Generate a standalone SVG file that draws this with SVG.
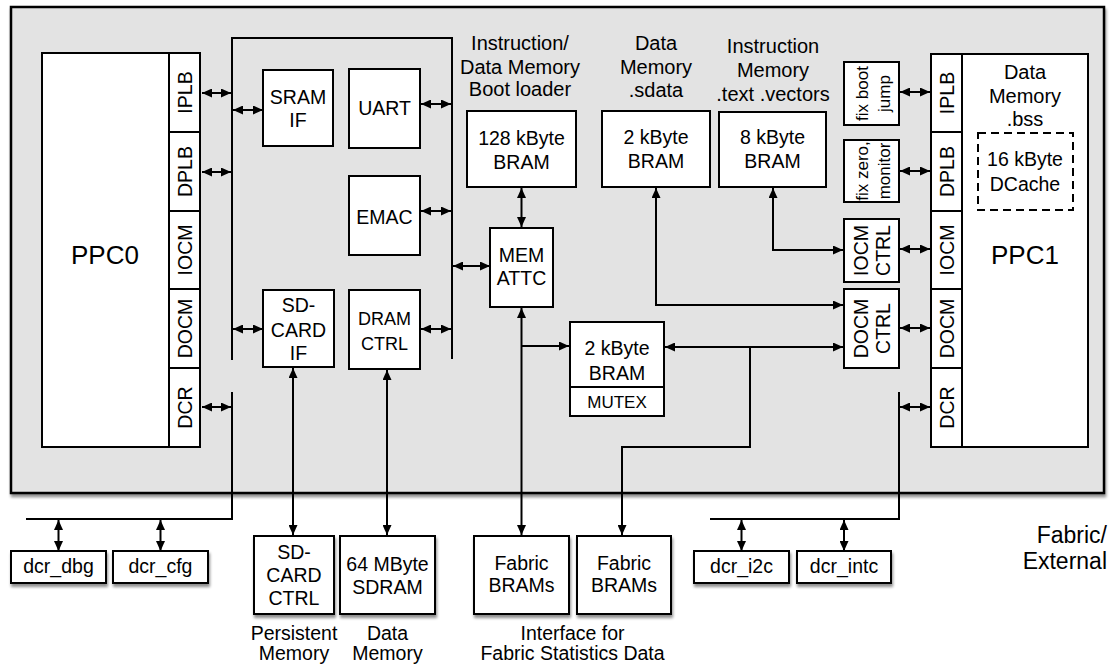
<svg xmlns="http://www.w3.org/2000/svg" width="1112" height="666" viewBox="0 0 1112 666">
<defs>
<marker id="ah" viewBox="0 0 10 9" refX="10" refY="4.5" markerWidth="10" markerHeight="9" markerUnits="userSpaceOnUse" orient="auto-start-reverse"><path d="M0,0 L10,4.5 L0,9 z" fill="#000"/></marker>
<filter id="sh" x="-10%" y="-10%" width="125%" height="130%"><feGaussianBlur in="SourceAlpha" stdDeviation="1.5"/><feOffset dx="1" dy="3"/><feComponentTransfer><feFuncA type="linear" slope="0.45"/></feComponentTransfer><feMerge><feMergeNode/><feMergeNode in="SourceGraphic"/></feMerge></filter>
</defs>
<style>
.bx{fill:#fff;stroke:#000;stroke-width:2}
.t{font-family:"Liberation Sans",Arial,Helvetica,sans-serif;font-size:19.5px;fill:#000;text-anchor:middle}
.lb{font-size:20px}
.s18{font-size:18px}
.s17{font-size:17px}
.big{font-size:26px}
.ext{font-size:23px;text-anchor:end}
.ln{fill:none;stroke:#000;stroke-width:2}
.a2{marker-start:url(#ah);marker-end:url(#ah)}
.a1{marker-end:url(#ah)}
</style>
<rect id="background" x="0" y="0" width="1112" height="666" fill="#fff"/>
<g id="fpga"><rect x="11" y="7" width="1093" height="486" fill="#e3e3e3" stroke="#000" stroke-width="2.5" filter="url(#sh)"/></g>

<g id="connectors">
<path class="ln" d="M232,360 V38 H452 V359"/>
<path class="ln a2" d="M202,93 H231"/>
<path class="ln a2" d="M202,172 H231"/>
<path class="ln a2" d="M202,407 H231"/>
<path class="ln a2" d="M233,110 H263"/>
<path class="ln a2" d="M233,329 H263"/>
<path class="ln a2" d="M421,104 H451"/>
<path class="ln a2" d="M421,211 H451"/>
<path class="ln a2" d="M421,329 H451"/>
<path class="ln a2" d="M453,266 H490"/>
<path class="ln a2" d="M521.5,188 V227"/>
<path class="ln" d="M232,392 V519 H26"/>
<path class="ln a2" d="M58.5,520 V551"/>
<path class="ln a2" d="M160.5,520 V551"/>
<path class="ln a2" d="M293,368 V535"/>
<path class="ln a2" d="M387,370 V535"/>
<path class="ln a2" d="M521.5,308 V535"/>
<path class="ln a1" d="M521.5,346 H569"/>
<path class="ln a2" d="M665,347 H843"/>
<path class="ln a1" d="M750,347 V447 H622 V535"/>
<path class="ln a2" d="M656,188 V305 H843"/>
<path class="ln a2" d="M773,188 V250 H843"/>
<path class="ln a2" d="M900,92 H930"/>
<path class="ln a2" d="M900,171 H930"/>
<path class="ln a2" d="M900,249 H930"/>
<path class="ln a2" d="M900,328 H930"/>
<path class="ln a2" d="M900,407 H930"/>
<path class="ln" d="M899,392 V519 H710"/>
<path class="ln a2" d="M741.5,520 V551"/>
<path class="ln a2" d="M844,520 V551"/>
</g>

<g id="ppc0">
<rect class="bx" x="42" y="53" width="158" height="394"/>
<rect class="bx" x="169" y="53" width="31" height="79"/>
<rect class="bx" x="169" y="132" width="31" height="79"/>
<rect class="bx" x="169" y="211" width="31" height="78"/>
<rect class="bx" x="169" y="289" width="31" height="79"/>
<rect class="bx" x="169" y="368" width="31" height="79"/>
<text class="t big" x="105" y="264">PPC0</text>
<text class="t" transform="translate(184.5,92.5) rotate(-90)" y="7">IPLB</text>
<text class="t" transform="translate(184.5,171.5) rotate(-90)" y="7">DPLB</text>
<text class="t" transform="translate(184.5,250) rotate(-90)" y="7">IOCM</text>
<text class="t" transform="translate(184.5,328.5) rotate(-90)" y="7">DOCM</text>
<text class="t" transform="translate(184.5,407.5) rotate(-90)" y="7">DCR</text>
</g>

<g id="sram_if"><rect class="bx" x="263" y="70" width="70" height="76"/><text class="t" x="298" y="104">SRAM</text><text class="t" x="298" y="127">IF</text></g>
<g id="uart"><rect class="bx" x="349" y="69" width="71" height="79"/><text class="t" x="384.5" y="115">UART</text></g>
<g id="emac"><rect class="bx" x="349" y="176" width="71" height="79"/><text class="t" x="384.5" y="224">EMAC</text></g>
<g id="sdcard_if"><rect class="bx" x="263" y="290" width="71" height="77"/><text class="t" x="298.5" y="312">SD-</text><text class="t" x="298.5" y="337">CARD</text><text class="t" x="298.5" y="360">IF</text></g>
<g id="dram_ctrl"><rect class="bx" x="349" y="290" width="71" height="79"/><text class="t s18" x="384.5" y="324.5">DRAM</text><text class="t s18" x="384.5" y="349.5">CTRL</text></g>
<g id="mem_attc"><rect class="bx" x="490" y="228" width="63" height="79"/><text class="t" x="521.5" y="262">MEM</text><text class="t" x="521.5" y="285">ATTC</text></g>

<g id="bram128">
<text class="t lb" x="520" y="50">Instruction/</text><text class="t lb" x="520" y="74">Data Memory</text><text class="t lb" x="520" y="96">Boot loader</text>
<rect class="bx" x="467" y="111" width="109" height="76"/><text class="t" x="521.5" y="145">128 kByte</text><text class="t" x="521.5" y="169">BRAM</text>
</g>
<g id="bram2_sdata">
<text class="t lb" x="656" y="50">Data</text><text class="t lb" x="656" y="74">Memory</text><text class="t lb" x="656" y="97">.sdata</text>
<rect class="bx" x="602" y="111" width="108" height="76"/><text class="t" x="656" y="144">2 kByte</text><text class="t" x="656" y="168">BRAM</text>
</g>
<g id="bram8">
<text class="t lb" x="773" y="53">Instruction</text><text class="t lb" x="773" y="77">Memory</text><text class="t lb" x="773" y="101">.text .vectors</text>
<rect class="bx" x="719" y="112" width="107" height="75"/><text class="t" x="772.5" y="144">8 kByte</text><text class="t" x="772.5" y="168">BRAM</text>
</g>
<g id="mutex_bram">
<rect class="bx" x="570" y="322" width="94" height="94"/><line class="ln" x1="570" y1="387" x2="664" y2="387"/>
<text class="t" x="617" y="355">2 kByte</text><text class="t" x="617" y="380">BRAM</text><text class="t s17" x="617" y="408">MUTEX</text>
</g>

<g id="fix_boot"><rect class="bx" x="844" y="62" width="55" height="63"/><text class="t s17" transform="translate(862,93.5) rotate(-90)" y="6">fix boot</text><text class="t s17" transform="translate(884,93.5) rotate(-90)" y="6">jump</text></g>
<g id="fix_zero"><rect class="bx" x="844" y="140" width="55" height="62"/><text class="t s17" transform="translate(862,171) rotate(-90)" y="6">fix zero,</text><text class="t s17" transform="translate(884,171) rotate(-90)" y="6">monitor</text></g>
<g id="iocm_ctrl"><rect class="bx" x="844" y="219" width="55" height="63"/><text class="t" transform="translate(861,250.5) rotate(-90)" y="7">IOCM</text><text class="t" transform="translate(883,250.5) rotate(-90)" y="7">CTRL</text></g>
<g id="docm_ctrl"><rect class="bx" x="844" y="289" width="55" height="79"/><text class="t" transform="translate(861,328.5) rotate(-90)" y="7">DOCM</text><text class="t" transform="translate(883,328.5) rotate(-90)" y="7">CTRL</text></g>

<g id="ppc1">
<rect class="bx" x="931" y="54" width="157" height="393"/>
<rect class="bx" x="931" y="54" width="31" height="78"/>
<rect class="bx" x="931" y="132" width="31" height="79"/>
<rect class="bx" x="931" y="211" width="31" height="78"/>
<rect class="bx" x="931" y="289" width="31" height="79"/>
<rect class="bx" x="931" y="368" width="31" height="79"/>
<text class="t" transform="translate(946.5,93) rotate(-90)" y="7">IPLB</text>
<text class="t" transform="translate(946.5,171.5) rotate(-90)" y="7">DPLB</text>
<text class="t" transform="translate(946.5,250) rotate(-90)" y="7">IOCM</text>
<text class="t" transform="translate(946.5,328.5) rotate(-90)" y="7">DOCM</text>
<text class="t" transform="translate(946.5,407.5) rotate(-90)" y="7">DCR</text>
<text class="t lb" x="1025" y="79">Data</text><text class="t lb" x="1025" y="103">Memory</text><text class="t lb" x="1025" y="126">.bss</text>
<rect x="978" y="133" width="95" height="77" fill="none" stroke="#000" stroke-width="2" stroke-dasharray="8,5"/>
<text class="t" x="1025" y="166">16 kByte</text><text class="t" x="1025" y="191">DCache</text>
<text class="t big" x="1025" y="264">PPC1</text>
</g>

<g id="dcr_dbg"><rect class="bx" x="11" y="551" width="95" height="32" filter="url(#sh)"/><text class="t" x="58.5" y="573">dcr_dbg</text></g>
<g id="dcr_cfg"><rect class="bx" x="113" y="551" width="95" height="32" filter="url(#sh)"/><text class="t" x="160.5" y="573">dcr_cfg</text></g>
<g id="sdcard_ctrl"><rect class="bx" x="254" y="536" width="80" height="78" filter="url(#sh)"/><text class="t" x="294" y="559">SD-</text><text class="t" x="294" y="582">CARD</text><text class="t" x="294" y="605">CTRL</text>
<text class="t" x="294" y="640">Persistent</text><text class="t" x="294" y="660">Memory</text></g>
<g id="sdram"><rect class="bx" x="340" y="536" width="95" height="78" filter="url(#sh)"/><text class="t" x="387.5" y="571">64 MByte</text><text class="t" x="387.5" y="594">SDRAM</text>
<text class="t" x="387.5" y="640">Data</text><text class="t" x="387.5" y="660">Memory</text></g>
<g id="fabric_bram1"><rect class="bx" x="474" y="536" width="95" height="78" filter="url(#sh)"/><text class="t" x="521.5" y="570">Fabric</text><text class="t" x="521.5" y="592">BRAMs</text></g>
<g id="fabric_bram2"><rect class="bx" x="577" y="536" width="94" height="78" filter="url(#sh)"/><text class="t" x="624" y="570">Fabric</text><text class="t" x="624" y="592">BRAMs</text></g>
<g id="fabric_label"><text class="t" x="572.5" y="640">Interface for</text><text class="t" x="572.5" y="660">Fabric Statistics Data</text></g>
<g id="dcr_i2c"><rect class="bx" x="694" y="551" width="95" height="32" filter="url(#sh)"/><text class="t" x="741.5" y="573">dcr_i2c</text></g>
<g id="dcr_intc"><rect class="bx" x="797" y="551" width="94" height="32" filter="url(#sh)"/><text class="t" x="844" y="573">dcr_intc</text></g>
<g id="external_label"><text class="t ext" x="1107" y="543">Fabric/</text><text class="t ext" x="1107" y="569">External</text></g>
</svg>
